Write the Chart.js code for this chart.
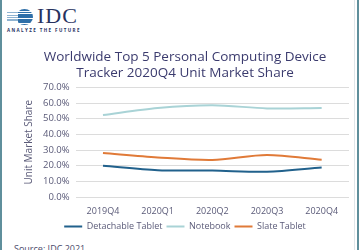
<!DOCTYPE html>
<html>
<head>
<meta charset="utf-8">
<script src="https://cdn.jsdelivr.net/npm/chart.js@4"></script>
<style>
  html, body { margin: 0; padding: 0; background: #fff; }
  body { width: 359px; height: 250px; position: relative; overflow: hidden; font-family: "Open Sans", sans-serif; }
  .frame { position: absolute; left: 0; top: 0; width: 359px; height: 250px; border-left: 2px solid #5f8f9c; border-right: 2px solid #5f8f9c; box-sizing: border-box; }
  .frame:after { content: ""; position: absolute; right: 2px; top: 0; bottom: 0; width: 1px; background: #dfe6ea; }
  .globe { position: absolute; left: 16px; top: 9px; width: 17px; height: 16px; border-radius: 50%;
    background: repeating-linear-gradient(to bottom, #2f6fa8 0 1.5px, #ffffff 1.5px 2.5px); }
  .globe:before { content: ""; position: absolute; left: -9px; top: 3px; width: 11px; height: 10px;
    background: repeating-linear-gradient(to bottom, #8fb3d1 0 1px, #fff 1px 2.5px); }
  .idc { position: absolute; left: 37px; top: 3px; font-family: "Liberation Serif", serif; font-size: 22px; color: #27325f; letter-spacing: 1px; }
  .tag { position: absolute; left: 7px; top: 27px; font-size: 4.5px; letter-spacing: 1.4px; color: #27325f; font-weight: bold; }
  .wrap { position: absolute; left: 2px; top: 40px; width: 353px; height: 201px; }
  .src { position: absolute; left: 14px; top: 242px; font-size: 9px; color: #4a4a6a; }
</style>
</head>
<body>
<div class="frame"></div>
<div class="globe"></div>
<div class="idc">IDC</div>
<div class="tag">ANALYZE THE FUTURE</div>
<div class="wrap"><canvas id="chart"></canvas></div>
<div class="src">Source: IDC 2021</div>
<script>
const quarters = ['2019Q4', '2020Q1', '2020Q2', '2020Q3', '2020Q4'];
const detachable = [19.9, 17.1, 16.9, 16.1, 18.8];
const notebook = [52.3, 56.8, 58.6, 56.6, 56.8];
const slate = [28.1, 25.3, 23.7, 26.8, 23.8];
const titleLines = ['Worldwide Top 5 Personal Computing Device', 'Tracker 2020Q4 Unit Market Share'];

const tickColor = '#5a5a78';

new Chart(document.getElementById('chart'), {
    type: 'line',
    data: {
        labels: quarters,
        datasets: [
            { label: 'Detachable Tablet', data: detachable, borderColor: '#21618c', backgroundColor: '#21618c' },
            { label: 'Notebook', data: notebook, borderColor: '#a9d3d6', backgroundColor: '#a9d3d6' },
            { label: 'Slate Tablet', data: slate, borderColor: '#e07a38', backgroundColor: '#e07a38' }
        ]
    },
    options: {
        responsive: true,
        maintainAspectRatio: false,
        animation: false,
        layout: { padding: { left: 19, right: 6, top: 0, bottom: 0 } },
        elements: {
            line: { borderWidth: 2, tension: 0.3 },
            point: { radius: 0 }
        },
        plugins: {
            title: {
                display: true,
                text: titleLines,
                color: '#3b3b6e',
                font: { family: 'Open Sans', size: 13.5, weight: 'normal', lineHeight: 1.2 },
                padding: { top: 9, bottom: 6 }
            },
            legend: {
                position: 'bottom',
                labels: {
                    boxWidth: 18,
                    boxHeight: 0,
                    color: tickColor,
                    font: { family: 'Open Sans', size: 9, lineHeight: 1 },
                    padding: 4
                }
            },
            tooltip: { enabled: false }
        },
        scales: {
            x: {
                offset: true,
                grid: { display: false },
                border: { display: false },
                ticks: { color: tickColor, font: { family: 'Open Sans', size: 9, lineHeight: 1 }, maxRotation: 0, padding: 2 }
            },
            y: {
                min: 0,
                max: 70,
                grid: { color: '#dcdcdc', drawTicks: false },
                border: { display: false },
                ticks: {
                    stepSize: 10,
                    autoSkip: false,
                    padding: 6,
                    color: tickColor,
                    font: { family: 'Open Sans', size: 9.5 },
                    callback: v => v.toFixed(1) + '%'
                },
                title: {
                    display: true,
                    text: 'Unit Market Share',
                    color: tickColor,
                    font: { family: 'Open Sans', size: 10 },
                    padding: 2
                }
            }
        }
    }
});
</script>
</body>
</html>
